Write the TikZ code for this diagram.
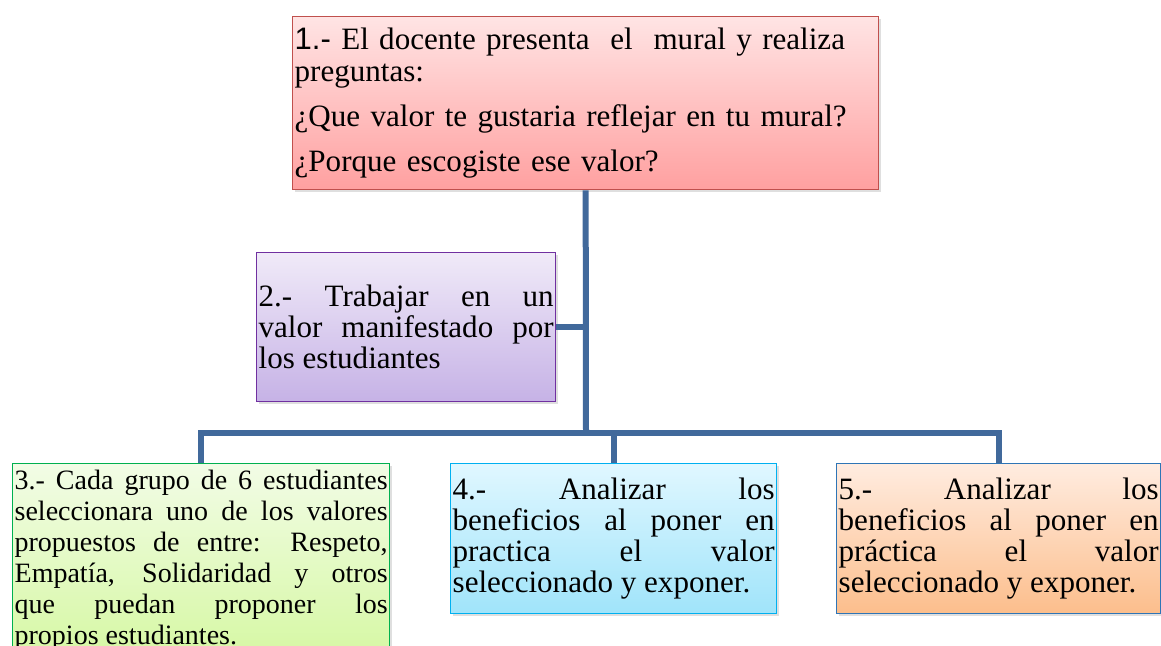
\documentclass[tikz,border=0pt]{standalone}
\usepackage{fontspec}
\setmainfont{Liberation Serif}
\newfontfamily\arialfont{Liberation Sans}
\usepackage{xcolor}
\usetikzlibrary{positioning, shadows}
\hyphenpenalty=10000
\exhyphenpenalty=10000

\definecolor{linkblue}{RGB}{65,105,155}
\definecolor{redline}{RGB}{192,80,77}
\definecolor{redtop}{RGB}{255,228,228}
\definecolor{redbot}{RGB}{255,160,160}
\definecolor{purpleline}{RGB}{112,48,160}
\definecolor{purpletop}{RGB}{240,234,248}
\definecolor{purplebot}{RGB}{198,178,230}
\definecolor{greenline}{RGB}{0,176,80}
\definecolor{greentop}{RGB}{242,252,230}
\definecolor{greenbot}{RGB}{214,248,164}
\definecolor{cyanline}{RGB}{0,176,240}
\definecolor{cyantop}{RGB}{224,247,255}
\definecolor{cyanbot}{RGB}{160,228,250}
\definecolor{orangeline}{RGB}{46,117,182}
\definecolor{orangetop}{RGB}{255,236,224}
\definecolor{orangebot}{RGB}{252,190,140}

\begin{document}
\begin{tikzpicture}[line join=miter, x=0.75pt, y=-0.75pt,
  stepbox/.style={draw, line width=1pt, rectangle, anchor=north west, inner xsep=1.5pt, inner ysep=0pt,
    align=justify, font=\fontsize{23.3}{23.3}\selectfont,
    drop shadow={opacity=0.25, shadow xshift=1.5pt, shadow yshift=-2pt}},
  link/.style={line width=4.5pt, color=linkblue}]
\useasboundingbox (0,0) rectangle (1161,646);
\clip (0,0) rectangle (1161,646);

% Boxes
\node [stepbox, draw=redline, top color=redtop, bottom color=redbot, align=left,
  text width=436.5pt, minimum height=129.75pt] (b1) at (292,16)
  {{\arialfont 1.-} El docente presenta\ \ el\ \ mural y realiza\\
   preguntas:\\[11pt]
   ¿Que valor te gustaria reflejar en tu mural?\\[10pt]
   ¿Porque escogiste ese valor?};
\node [stepbox, draw=purpleline, top color=purpletop, bottom color=purplebot,
  text width=221.25pt, minimum height=111.75pt] (b2) at (256,252)
  {2.- Trabajar en un\linebreak valor manifestado por\linebreak los estudiantes};
\node [stepbox, draw=greenline, top color=greentop, bottom color=greenbot,
  font=\fontsize{21}{23.3}\selectfont,
  text width=279.75pt, minimum height=145pt] (b3) at (12,463)
  {3.- Cada grupo de 6 estudiantes\linebreak seleccionara uno de los valores\linebreak
   propuestos de entre: Respeto,\linebreak Empatía, Solidaridad y otros\linebreak
   que puedan proponer los\linebreak propios estudiantes.};
\node [stepbox, draw=cyanline, top color=cyantop, bottom color=cyanbot,
  text width=241.5pt, minimum height=112.5pt] (b4) at (450,463)
  {4.- Analizar los\linebreak beneficios al poner en\linebreak practica el valor\linebreak seleccionado y exponer.};
\node [stepbox, draw=orangeline, top color=orangetop, bottom color=orangebot,
  text width=240pt, minimum height=112.5pt] (b5) at (836,463)
  {5.- Analizar los\linebreak beneficios al poner en\linebreak práctica el valor\linebreak seleccionado y exponer.};

% Connectors
\coordinate (hub) at (586,433);
\draw [link] (b1.south) -- (hub);
\draw [link] (b2.east) -- (b2.east -| hub);
\draw [link] (b3.north) |- (hub) -| (b5.north);
\draw [link] (b4.north) -- (b4.north |- hub);
\end{tikzpicture}
\end{document}
